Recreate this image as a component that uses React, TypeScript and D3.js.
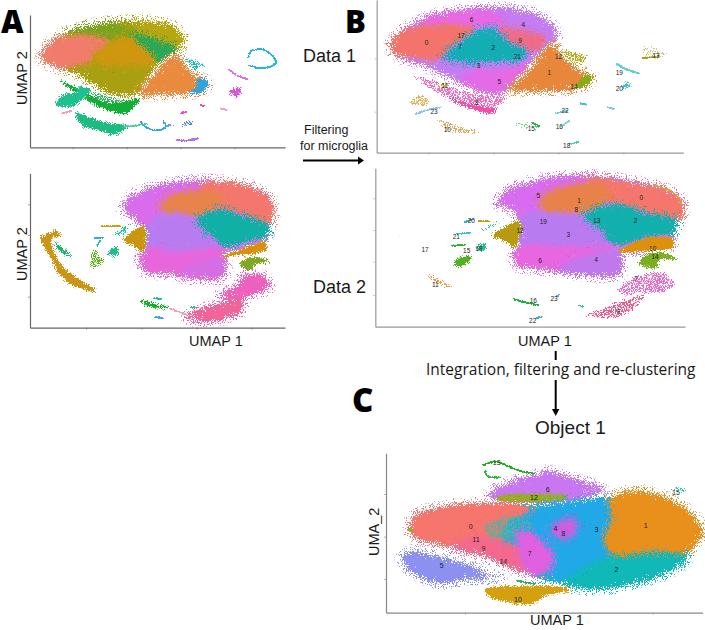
import React, { useEffect, useRef } from 'react';
import * as d3 from 'd3';

type Pt = [number, number];

// outlines are read off the picture, in each panel's own plot units
// panel A top
const aOlive: Pt[] = [[125,165],[150,130],[200,100],[270,78],[360,65],[440,65],[510,75],[545,105],[548,130],[520,160],[470,195],[420,270],[380,287],[330,280],[280,250],[240,222],[180,205],[135,185]];
const aGreenTop: Pt[] = [[195,100],[270,78],[350,70],[405,110],[380,122],[340,128],[270,110],[210,108]];
const aYellow: Pt[] = [[420,65],[510,75],[548,120],[530,145],[420,105]];
const aGreenPatch: Pt[] = [[385,112],[420,105],[530,145],[505,168],[470,185],[420,150]];
const aCoral: Pt[] = [[125,165],[150,128],[200,110],[270,112],[340,128],[290,165],[270,180],[180,205],[135,185]];
const aGold: Pt[] = [[280,168],[340,125],[385,115],[465,182],[420,195],[360,195],[300,188]];
const aOrange: Pt[] = [[530,165],[545,185],[575,225],[610,240],[622,255],[605,275],[550,280],[470,282],[415,282],[470,220],[500,185]];
const aBlueTip: Pt[] = [[592,240],[612,238],[625,252],[610,272],[572,280],[592,262]];
const aTeal: Pt[] = [[545,172],[585,178],[620,200],[600,205],[590,217],[570,200]];
const aRing: Pt[] = [[745,172],[752,155],[785,148],[815,165],[828,185],[805,202],[770,203],[748,197]];
const aViolet1: Pt[] = [[688,210],[715,228],[742,238]];
const aMagenta: Pt[] = [[688,274],[720,264],[716,290],[702,284]];
const aPink1: Pt[] = [[543,340],[558,335]];
const aPink2: Pt[] = [[601,315],[612,318]];
const aPink3: Pt[] = [[662,325],[680,330]];
const aPink4: Pt[] = [[188,340],[212,333]];
const aPurple: Pt[] = [[530,420],[560,422],[595,415]];
const aBlue: Pt[] = [[510,375],[550,368],[578,352],[575,378],[550,382]];
const aArc: Pt[] = [[422,365],[445,385],[480,390],[497,380],[490,365]];
const aGreenBand: Pt[] = [[180,243],[240,285],[300,320],[360,340],[385,335],[420,298],[375,305],[320,310],[270,285],[225,262]];
const aGreenHaze: Pt[] = [[225,258],[290,275],[380,298],[380,330],[300,312]];
const aTealBlob: Pt[] = [[168,315],[190,285],[225,280],[240,262],[272,270],[240,300],[215,320]];
const aLower: Pt[] = [[228,345],[235,338],[270,355],[320,370],[380,378],[360,395],[335,403],[300,390],[250,378]];
const aLowerTrail: Pt[] = [[370,380],[420,375],[440,372]];
const aBlueTrail: Pt[] = [[497,380],[510,375]];

// panel A bottom
const a2Back: Pt[] = [[370,130],[395,95],[470,65],[560,50],[650,50],[740,62],[800,90],[820,135],[805,185],[795,232],[720,255],[672,265],[678,318],[650,340],[580,340],[500,325],[440,320],[420,290],[430,262],[445,200],[425,175],[400,155]];
const a2MagentaTop: Pt[] = [[370,130],[395,95],[470,65],[560,50],[650,50],[640,85],[520,100],[480,160],[445,195],[425,175],[400,155]];
const a2Coral: Pt[] = [[620,52],[700,55],[770,75],[810,105],[820,140],[805,182],[720,150],[650,130],[600,110],[600,78]];
const a2Orange: Pt[] = [[480,125],[510,95],[570,80],[640,80],[665,100],[650,135],[590,158],[530,150],[490,145]];
const a2Teal: Pt[] = [[590,165],[660,135],[730,155],[805,180],[795,215],[740,225],[670,248],[650,220]];
const a2Purple: Pt[] = [[440,200],[470,160],[530,150],[590,170],[650,220],[675,250],[600,262],[520,272],[445,262]];
const a2MagentaLow: Pt[] = [[420,290],[430,262],[445,250],[520,262],[600,258],[670,250],[675,320],[650,340],[580,340],[500,325],[440,320]];
const a2PurpleLow: Pt[] = [[535,322],[600,285],[665,270],[678,318],[650,338],[590,338]];
const a2GoldBar: Pt[] = [[665,275],[720,255],[795,230],[795,255],[760,265],[690,272]];
const a2Triangle: Pt[] = [[372,222],[430,182],[437,220],[430,258],[400,240]];
const a2GoldBand: Pt[] = [[125,215],[170,198],[178,210],[150,225],[170,280],[200,320],[285,375],[260,375],[210,355],[175,320],[150,270],[128,235]];
const a2GreenFin: Pt[] = [[165,235],[200,260],[215,275],[190,265],[175,250]];
const a2GreenBush: Pt[] = [[268,312],[275,255],[305,250],[290,265],[318,285],[300,300]];
const a2TealFin: Pt[] = [[325,262],[350,245],[355,258],[345,272]];
const a2Gold1: Pt[] = [[305,183],[330,184],[360,183]];
const a2TealHaze: Pt[] = [[335,210],[375,180],[395,170],[375,210]];
const a2Blue1: Pt[] = [[285,220],[310,218]];
const a2Blue2: Pt[] = [[292,242],[300,228]];
const a2GreenRight: Pt[] = [[720,300],[745,280],[780,280],[805,292],[770,295],[750,315]];
const a2HotPink: Pt[] = [[560,450],[650,420],[715,400],[730,410],[715,445],[650,465],[580,465]];
const a2Pink: Pt[] = [[660,385],[710,370],[735,330],[790,335],[808,370],[760,385],[730,405],[680,405]];
const a2GreenTrail: Pt[] = [[420,407],[470,420],[510,430],[450,425]];
const a2PinkTrail: Pt[] = [[510,430],[560,450]];
const a2Tiny1: Pt[] = [[572,427],[585,427]];
const a2Tiny2: Pt[] = [[465,455],[488,460]];
const a2Tiny3: Pt[] = [[462,400],[482,402]];

// panel B top
const b1Violet: Pt[] = [[62,135],[100,90],[180,50],[280,30],[400,25],[490,40],[550,80],[560,115],[530,140],[480,190],[430,240],[400,275],[340,275],[280,250],[220,220],[150,190],[90,170]];
const b1MagentaTop: Pt[] = [[150,65],[180,50],[280,32],[370,38],[400,60],[350,82],[270,80],[190,78]];
const b1MagentaLow: Pt[] = [[270,240],[320,210],[380,212],[480,190],[430,245],[400,278],[340,275],[290,255]];
const b1Coral: Pt[] = [[62,135],[90,100],[150,80],[240,75],[300,85],[320,95],[250,140],[220,170],[150,175],[90,165],[70,155]];
const b1CoralRight: Pt[] = [[380,85],[470,95],[530,115],[510,145],[475,155],[420,130]];
const b1Teal: Pt[] = [[220,170],[270,130],[320,95],[350,85],[385,100],[430,140],[475,155],[440,180],[380,180],[300,185],[260,180]];
const b1Orange: Pt[] = [[410,270],[470,225],[510,170],[545,130],[560,150],[600,195],[650,225],[665,235],[650,255],[600,268],[500,270]];
const b1OliveTip: Pt[] = [[612,264],[650,224],[665,235],[655,255]];
const b1Yellow: Pt[] = [[575,145],[650,165],[650,180],[625,205],[590,180],[570,165]];
const b1PinkBand: Pt[] = [[125,225],[200,280],[290,325],[360,342],[380,320],[420,290],[350,280],[280,270],[200,240]];
const b1Hot: Pt[] = [[230,295],[290,320],[360,340],[380,322],[360,325],[300,312]];
const b1Gold1: Pt[] = [[190,258],[215,245],[245,250],[235,266],[205,268]];
const b1Gold2: Pt[] = [[118,305],[150,280],[180,300],[170,318],[130,318]];
const b1Gold3: Pt[] = [[195,350],[240,365],[280,380],[340,395],[300,402],[230,392]];
const b1Green1: Pt[] = [[425,368],[460,392],[505,392],[510,375],[488,365]];
const b1GreenLine: Pt[] = [[488,368],[508,380]];
const b1OliveLine: Pt[] = [[820,175],[866,168]];
const b1Haze13: Pt[] = [[815,130],[900,155],[865,180],[820,180]];
const b1Cyan1: Pt[] = [[740,192],[770,208],[806,220]];
const b1Cyan2: Pt[] = [[755,262],[770,250],[778,260]];
const b1Cyan3: Pt[] = [[632,310],[648,314]];
const b1Cyan4: Pt[] = [[714,322],[732,328]];
const b1Cyan5: Pt[] = [[558,340],[590,332]];
const b1Cyan6: Pt[] = [[575,380],[598,362]];
const b1Cyan7: Pt[] = [[600,432],[624,426]];
const b1Cyan8: Pt[] = [[138,342],[165,332],[212,322]];

// panel B bottom
const b2Back: Pt[] = [[385,130],[410,95],[480,70],[570,52],[690,50],[760,60],[880,85],[930,115],[940,150],[920,185],[908,235],[910,255],[830,270],[750,280],[755,330],[735,345],[680,348],[610,340],[500,325],[450,320],[430,290],[450,258],[450,190],[430,150]];
const b2MagentaTop: Pt[] = [[385,130],[410,95],[480,70],[570,52],[690,50],[640,90],[530,110],[510,170],[460,178],[430,150]];
const b2Coral: Pt[] = [[660,55],[760,65],[880,90],[930,120],[940,150],[920,185],[840,165],[740,135],[690,120],[650,90]];
const b2CoralEdge: Pt[] = [[850,76],[905,95],[935,130]];
const b2Orange: Pt[] = [[510,130],[540,95],[620,75],[690,70],[720,110],[700,140],[640,160],[560,165],[520,155]];
const b2Teal: Pt[] = [[640,165],[740,135],[840,165],[920,180],[905,220],[830,230],[730,255],[700,210]];
const b2Purple: Pt[] = [[450,190],[480,160],[560,165],[640,175],[720,230],[740,262],[640,270],[520,265],[450,262]];
const b2MagentaLow: Pt[] = [[430,290],[450,258],[520,260],[640,262],[740,260],[700,285],[590,330],[500,325],[450,320]];
const b2PurpleLow: Pt[] = [[570,325],[660,285],[750,280],[755,330],[735,345],[680,348],[610,340]];
const b2Gold: Pt[] = [[745,275],[830,235],[905,235],[910,255],[890,268],[820,272]];
const b2Triangle: Pt[] = [[370,225],[445,182],[450,215],[435,262],[405,240]];
const b2Green14: Pt[] = [[805,310],[840,280],[885,280],[920,298],[870,295],[860,320],[830,320]];
const b2Pink7: Pt[] = [[735,390],[800,345],[880,335],[918,375],[880,400],[800,400],[770,410]];
const b2Hot9: Pt[] = [[640,465],[700,445],[750,420],[830,405],[790,450],[740,475],[700,478]];
const b2Gold11: Pt[] = [[165,340],[200,350],[255,385],[210,380],[175,355]];
const b2Trail17: Pt[] = [[70,225],[90,220],[155,270],[170,340],[150,280],[95,235]];
const b2Green15: Pt[] = [[255,310],[270,295],[300,288],[295,305],[265,320]];
const b2GreenLine: Pt[] = [[245,257],[285,255]];
const b2Teal18: Pt[] = [[320,265],[345,250],[345,270]];
const b2TealHaze: Pt[] = [[325,212],[405,170],[395,185],[340,215]];
const b2GoldLine: Pt[] = [[325,184],[358,184]];
const b2BlueLine: Pt[] = [[283,186],[310,178]];
const b2BlueLine2: Pt[] = [[262,222],[300,218]];
const b2Green16: Pt[] = [[432,418],[470,428],[505,435]];
const b2Blue22: Pt[] = [[498,475],[515,470]];
const b2Blue23: Pt[] = [[560,408],[570,403]];
const b2Teal3: Pt[] = [[628,437],[638,440]];
const b2Haze: Pt[] = [[505,435],[580,450],[640,465],[600,455]];

// panel C
const cBack: Pt[] = [[185,215],[210,190],[330,165],[470,158],[560,165],[700,150],[780,145],[830,125],[900,130],[980,160],[1040,210],[1055,245],[1030,290],[1005,315],[980,350],[900,385],[800,410],[700,415],[620,395],[560,380],[470,345],[400,315],[280,285],[200,265],[180,240]];
const cViolet: Pt[] = [[420,130],[470,100],[530,85],[600,65],[660,85],[730,105],[760,125],[650,160],[520,160],[430,150]];
const cHalo: Pt[] = [[690,110],[760,112],[830,122],[780,150],[700,150]];
const cOlive: Pt[] = [[435,150],[470,135],[640,135],[640,150],[520,158]];
const cGreen1: Pt[] = [[400,45],[440,35],[500,60],[550,70]];
const cGreen2: Pt[] = [[405,62],[412,78],[450,82]];
const cTeal: Pt[] = [[590,250],[770,290],[1010,305],[980,350],[900,385],[800,410],[700,415],[620,395],[560,378],[590,340]];
const cBlue: Pt[] = [[440,225],[560,180],[700,155],[785,145],[795,200],[775,270],[795,310],[720,335],[625,392],[585,372],[590,320],[510,250]];
const cOrange: Pt[] = [[780,150],[830,125],[900,130],[980,160],[1040,210],[1055,245],[1030,290],[1000,305],[900,300],[800,315],[765,270],[790,210]];
const cCoral: Pt[] = [[185,215],[210,190],[330,165],[470,160],[545,175],[480,210],[450,270],[510,310],[550,372],[470,345],[400,315],[280,285],[200,265],[180,240]];
const cMix: Pt[] = [[400,225],[470,195],[550,215],[530,265],[470,265],[420,270]];
const cPink: Pt[] = [[300,290],[380,260],[450,275],[515,295],[550,372],[470,345],[400,315]];
const cMagenta: Pt[] = [[505,245],[550,255],[605,310],[595,362],[545,375],[515,330]];
const cPurple: Pt[] = [[605,232],[650,208],[682,220],[662,262],[618,260]];
const cPeri: Pt[] = [[155,325],[190,305],[260,320],[350,345],[430,380],[480,385],[360,385],[280,400],[220,385],[175,355]];
const cGold: Pt[] = [[405,420],[450,410],[620,410],[660,420],[590,435],[540,462],[490,458],[430,445]];
const cTip: Pt[] = [[175,238],[190,240]];
const cTeal15: Pt[] = [[930,115],[1000,110],[1010,130],[985,125]];
const cGreenDash: Pt[] = [[500,392],[555,402]];

const aTop: [Pt[], string, string][] = [
  [aOlive, '#a8a011', 'dense'], [aYellow, '#b8a610', 'dense'], [aGreenTop, '#7ba41c', 'dense'], [aGreenPatch, '#2aa858', 'dense'],
  [aCoral, '#f27c6c', 'dense'], [aGold, '#cf9610', 'dense'], [aOrange, '#ea8a3e', 'dense'],
  [aBlueTip, '#33a3d8', 'small'], [aTeal, '#1cbcb8', 'sparse'], [aRing, '#22b6d8', 'trace'],
  [aViolet1, '#d874e8', 'trace'], [aMagenta, '#e050e0', 'small'], [aPink1, '#f050b0', 'trace'],
  [aPink2, '#f05080', 'trace'], [aPink3, '#e8a0d0', 'trace'], [aPink4, '#f0a0b0', 'trace'],
  [aPurple, '#b070f0', 'trace'], [aBlue, '#4a80e8', 'sparse'], [aArc, '#30a8e0', 'trace'],
  [aGreenHaze, '#30b860', 'sparse'], [aGreenBand, '#12ae36', 'small'], [aTealBlob, '#1fc090', 'small'],
  [aLower, '#1cbc80', 'small'], [aLowerTrail, '#50c8a0', 'trace'], [aBlueTrail, '#60a0e8', 'trace'],
];
const aBottom: [Pt[], string, string][] = [
  [a2Back, '#c87ae8', 'dense'], [a2MagentaTop, '#d86cec', 'dense'], [a2Coral, '#f5766c', 'dense'], [a2Orange, '#e8834c', 'dense'],
  [a2Purple, '#b87cf0', 'dense'], [a2Teal, '#10b0a4', 'dense'], [a2MagentaLow, '#e866dc', 'dense'],
  [a2PurpleLow, '#c874e8', 'sparse'], [a2GoldBar, '#d8900f', 'small'], [a2Triangle, '#c8960f', 'small'],
  [a2GoldBand, '#cc9414', 'small'], [a2GreenFin, '#20b070', 'small'], [a2GreenBush, '#58b010', 'sparse'],
  [a2TealFin, '#20bc8c', 'small'], [a2Gold1, '#c8a010', 'trace'], [a2TealHaze, '#20c0a0', 'sparse'],
  [a2Blue1, '#30b0d8', 'trace'], [a2Blue2, '#30b0d8', 'trace'], [a2GreenRight, '#80a820', 'small'],
  [a2Pink, '#ee60c0', 'dense'], [a2HotPink, '#f0649c', 'dense'], [a2GreenTrail, '#10b020', 'small'],
  [a2PinkTrail, '#f0a0b0', 'trace'], [a2Tiny1, '#20c090', 'trace'], [a2Tiny2, '#50a0e0', 'trace'],
  [a2Tiny3, '#20c090', 'trace'],
];
const bTop: [Pt[], string, string][] = [
  [b1Violet, '#c47cf2', 'dense'], [b1MagentaTop, '#e868e6', 'dense'], [b1MagentaLow, '#e46ae8', 'dense'],
  [b1Coral, '#f4736a', 'dense'], [b1CoralRight, '#ee6c88', 'dense'], [b1Teal, '#12aeb4', 'dense'],
  [b1Orange, '#e8873c', 'dense'], [b1OliveTip, '#90a818', 'small'], [b1Yellow, '#bca81c', 'sparse'],
  [b1PinkBand, '#f068c0', 'sparse'], [b1Hot, '#f050a8', 'small'], [b1Gold1, '#e0a050', 'sparse'],
  [b1Gold2, '#e0b060', 'sparse'], [b1Gold3, '#e0a860', 'sparse'], [b1Green1, '#70d090', 'haze'],
  [b1GreenLine, '#30b040', 'trace'], [b1OliveLine, '#a8a010', 'trace'], [b1Haze13, '#d0c880', 'haze'],
  [b1Cyan1, '#60d0d0', 'trace'], [b1Cyan2, '#40c0c8', 'small'], [b1Cyan3, '#40c0d0', 'trace'],
  [b1Cyan4, '#70d0d8', 'trace'], [b1Cyan5, '#70d0e0', 'trace'], [b1Cyan6, '#80d8c0', 'trace'],
  [b1Cyan7, '#50c8b0', 'trace'], [b1Cyan8, '#90c8e0', 'trace'],
];
const bBottom: [Pt[], string, string][] = [
  [b2Back, '#c47ce8', 'dense'], [b2MagentaTop, '#d86cf0', 'dense'], [b2Coral, '#f4766c', 'dense'], [b2CoralEdge, '#e8982c', 'trace'], [b2Orange, '#e8824a', 'dense'],
  [b2Purple, '#b87cf0', 'dense'], [b2Teal, '#12b0ac', 'dense'], [b2MagentaLow, '#e866e0', 'dense'],
  [b2PurpleLow, '#c078ec', 'dense'], [b2Gold, '#dc900c', 'small'], [b2Triangle, '#b89a10', 'small'],
  [b2Green14, '#7ab020', 'small'], [b2Pink7, '#ee68c8', 'sparse'], [b2Hot9, '#f0588c', 'sparse'],
  [b2Gold11, '#d89c50', 'sparse'], [b2Trail17, '#a0d8b0', 'haze'], [b2Green15, '#50b020', 'small'],
  [b2GreenLine, '#30b030', 'trace'], [b2Teal18, '#20c090', 'small'], [b2TealHaze, '#30c0a0', 'sparse'],
  [b2GoldLine, '#b8a010', 'trace'], [b2BlueLine, '#30b0c8', 'trace'], [b2BlueLine2, '#40b8e0', 'trace'],
  [b2Green16, '#20b040', 'trace'], [b2Blue22, '#50a0e0', 'trace'], [b2Blue23, '#70a0e0', 'trace'],
  [b2Teal3, '#40c0a0', 'trace'], [b2Haze, '#f0a0b8', 'haze'],
];
const cMain: [Pt[], string, string][] = [
  [cViolet, '#c876f2', 'dense'], [cHalo, '#e0a0d0', 'haze'], [cOlive, '#96ae20', 'small'], [cGreen1, '#20b020', 'trace'],
  [cGreen2, '#30b840', 'trace'], [cBack, '#38aacc', 'dense'], [cTeal, '#10b8b8', 'dense'], [cBlue, '#20a8e8', 'dense'],
  [cOrange, '#e88f1c', 'dense'], [cCoral, '#f6756c', 'dense'], [cPink, '#f4688e', 'dense'], [cMix, '#58b0a0', 'sparse'],
  [cMagenta, '#e060e0', 'dense'], [cPurple, '#c860e0', 'dense'], [cPeri, '#8c90f0', 'dense'],
  [cGold, '#d4a010', 'small'], [cTip, '#90b020', 'trace'], [cTeal15, '#30c8b0', 'sparse'],
  [cGreenDash, '#30b060', 'trace'],
];

const aTicksX = [218, 380, 541, 703];
const a2TicksX = [258, 425, 590, 755];
const a2TicksY = [118, 210, 300, 395];
const b1TicksX = [175, 370, 565, 760];
const b1TicksY = [175, 335];
const b2TicksY = [115, 210, 305, 405];
const cTicksX = [345, 627, 908];
const cTicksY = [132, 260, 387];

const b1Labels: [string, number, number][] = [['0',170,128],['6',305,58],['4',460,72],['17',273,105],['9',450,120],['7',270,140],['2',370,142],['21',442,170],['3',326,196],['5',388,244],['12',566,168],['1',538,216],['14',612,258],['11',224,256],['8',320,306],['23',192,335],['10',232,388],['15',484,385],['16',568,380],['22',585,332],['18',590,436],['19',748,218],['20',748,265],['13',858,165]];
const b2Labels: [string, number, number][] = [['5',505,107],['1',627,122],['8',619,147],['0',814,113],['19',520,183],['13',680,181],['2',797,181],['20',304,180],['12',450,210],['3',595,224],['21',259,230],['17',165,267],['15',290,270],['18',327,265],['10',848,265],['14',855,289],['6',510,301],['4',678,299],['7',798,355],['11',196,373],['9',745,455],['16',490,422],['23',552,415],['22',488,481]];
const cLabels: [string, number, number][] = [['13',440,38],['6',593,117],['15',978,127],['12',552,143],['0',362,228],['1',887,225],['4',616,236],['8',640,249],['3',739,238],['11',378,268],['9',400,296],['7',539,309],['14',460,335],['5',275,346],['2',799,357],['10',504,448]];

export default function App() {
  const ref = useRef<SVGSVGElement>(null);

  useEffect(() => {
    const svg = d3.select(ref.current);
    svg.selectAll('*').remove();

    const defs = svg.append('defs');
    // soft edge + noise threshold: the shape dissolves into grains like single cells
    const makeFilter = (id: string, soft: number, offset: number) => {
      const f = defs.append('filter').attr('id', id)
        .attr('filterUnits', 'userSpaceOnUse')
        .attr('color-interpolation-filters', 'sRGB')
        .attr('x', 0).attr('y', 0).attr('width', 705).attr('height', 630);
      f.append('feTurbulence').attr('type', 'fractalNoise').attr('baseFrequency', 1.1)
        .attr('numOctaves', 2).attr('seed', 3).attr('result', 'noise');
      f.append('feGaussianBlur').attr('in', 'SourceGraphic').attr('stdDeviation', soft).attr('result', 'soft');
      f.append('feColorMatrix').attr('in', 'soft').attr('type', 'matrix')
        .attr('values', '1 0 0 0 0 0 1 0 0 0 0 0 1 0 0 0 0 0 40 0').attr('result', 'solid');
      f.append('feColorMatrix').attr('in', 'noise').attr('type', 'matrix')
        .attr('values', '0 0 0 0 0 0 0 0 0 0 0 0 0 0 0 2 0 0 0 -0.5').attr('result', 'noiseA');
      f.append('feColorMatrix').attr('in', 'soft').attr('type', 'matrix')
        .attr('values', '0 0 0 0 0 0 0 0 0 0 0 0 0 0 0 0 0 0 1 0').attr('result', 'softA');
      f.append('feComposite').attr('in', 'softA').attr('in2', 'noiseA').attr('operator', 'arithmetic')
        .attr('k1', 0).attr('k2', 10).attr('k3', 12).attr('k4', offset).attr('result', 'mask');
      f.append('feComposite').attr('in', 'solid').attr('in2', 'mask').attr('operator', 'in').attr('result', 'grains');
      f.append('feGaussianBlur').attr('in', 'grains').attr('stdDeviation', 0.25);
    };
    makeFilter('dense', 3, -9);
    makeFilter('small', 0.9, -9);
    makeFilter('trace', 0.5, -8.5);
    makeFilter('sparse', 1.5, -15);
    makeFilter('haze', 2, -17);

    const closed = d3.line().curve(d3.curveCardinalClosed.tension(0.35));
    const open = d3.line().curve(d3.curveCatmullRom.alpha(0.5));

    function panel(ox: number, oy: number, xd: number[], yd: number[], layers: [Pt[], string, string][],
      ticksX: number[], ticksY: number[], labels: [string, number, number][], axisColor: string, labelSize: number) {
      const x = d3.scaleLinear().domain(xd).range(xd.map(v => ox + v / 3));
      const y = d3.scaleLinear().domain(yd).range(yd.map(v => oy + v / 3));
      const g = svg.append('g');

      layers.forEach(([pts, color, kind]) => {
        const scaled = pts.map(p => [x(p[0]), y(p[1])] as [number, number]);
        if (kind === 'trace') {
          g.append('path').attr('d', open(scaled))
            .attr('fill', 'none').attr('stroke', color)
            .attr('stroke-width', 1.5)
            .attr('stroke-linecap', 'round')
            .attr('filter', 'url(#trace)');
        } else {
          g.append('path').attr('d', closed(scaled)).attr('fill', color)
            .attr('filter', `url(#${kind})`);
        }
      });

      const bottom = g.append('g').attr('transform', `translate(0,${y(yd[1])})`)
        .call(d3.axisBottom(x).tickValues(ticksX).tickSize(2).tickSizeOuter(0).tickFormat(() => ''));
      const left = g.append('g').attr('transform', `translate(${x(xd[0])},0)`)
        .call(d3.axisLeft(y).tickValues(ticksY).tickSize(2).tickSizeOuter(0).tickFormat(() => ''));
      [bottom, left].forEach(a => {
        a.select('.domain').attr('stroke', axisColor).attr('stroke-width', 1.2);
        a.selectAll('.tick line').attr('stroke', axisColor).attr('stroke-width', 0.6);
      });

      g.selectAll('text.num').data(labels).enter().append('text').attr('class', 'num')
        .attr('x', d => x(d[1])).attr('y', d => y(d[2]))
        .attr('text-anchor', 'middle').attr('dominant-baseline', 'central')
        .attr('font-family', '"Liberation Sans", sans-serif').attr('font-size', labelSize)
        .attr('fill', '#222').text(d => d[0]);
    }

    panel(0, 0, [90, 855], [45, 442], aTop, aTicksX, [], [], '#666', 7);
    panel(0, 165, [90, 855], [25, 488], aBottom, a2TicksX, a2TicksY, [], '#666', 7);
    panel(370, 0, [20, 940], [0, 458], bTop, b1TicksX, b1TicksY, b1Labels, '#999', 6.5);
    panel(370, 160, [16, 945], [25, 500], bBottom, [], b2TicksY, b2Labels, '#999', 6.5);
    panel(350, 450, [108, 1058], [10, 488], cMain, cTicksX, cTicksY, cLabels, '#888', 7);

    const label = (t: string, px: number, py: number, size: number, opts: any = {}) => {
      const el = svg.append('text').attr('x', px).attr('y', py).attr('font-size', size)
        .attr('font-family', opts.family || '"Liberation Sans", sans-serif')
        .attr('fill', opts.fill || '#1a1a1a').text(t);
      if (opts.weight) el.attr('font-weight', opts.weight);
      if (opts.rotate) el.attr('transform', `rotate(-90,${px},${py})`);
      return el;
    };

    label('A', 1, 33, 31, { family: '"Open Sans", sans-serif', weight: 800, fill: '#000' });
    label('B', 345, 33, 31, { family: '"Open Sans", sans-serif', weight: 800, fill: '#000' });
    label('C', 352, 412, 33, { family: '"Open Sans", sans-serif', weight: 800, fill: '#000' });
    label('UMAP 2', 27, 105, 14.5, { rotate: true });
    label('UMAP 2', 27, 281, 14.5, { rotate: true });
    label('UMAP 1', 189, 346, 14.5);
    label('UMAP 1', 518, 346, 14.5);
    label('UMAP 1', 530, 625, 14.5);
    label('UMA_2', 379, 556, 14.5, { rotate: true });
    label('Data 1', 303, 62, 18);
    label('Data 2', 313, 293, 18);
    label('Filtering', 304, 134, 12.5);
    label('for microglia', 300, 150, 12.5);
    label('Integration, filtering and re-clustering', 426, 375, 15.5, { family: '"Open Sans", sans-serif' });
    label('Object 1', 535, 434, 19);

    const black = [[303, 160.5], [360, 160.5]] as [number, number][];
    const stem1 = [[555.7, 351], [555.7, 360]] as [number, number][];
    const stem2 = [[555.7, 380], [555.7, 410]] as [number, number][];
    [black, stem1, stem2].forEach(s => {
      svg.append('path').attr('d', d3.line()(s)).attr('stroke', '#000').attr('stroke-width', 2).attr('fill', 'none');
    });
    const heads = [[[358, 156.5], [364, 160.5], [358, 164.5]], [[552, 409], [555.7, 416], [559.4, 409]]] as [number, number][][];
    heads.forEach(h => {
      svg.append('path').attr('d', d3.line()(h) + 'Z').attr('fill', '#000');
    });
  }, []);

  return <svg ref={ref} width={705} height={630} style={{ position: 'absolute', left: 0, top: 0, background: '#fff' }} />;
}
